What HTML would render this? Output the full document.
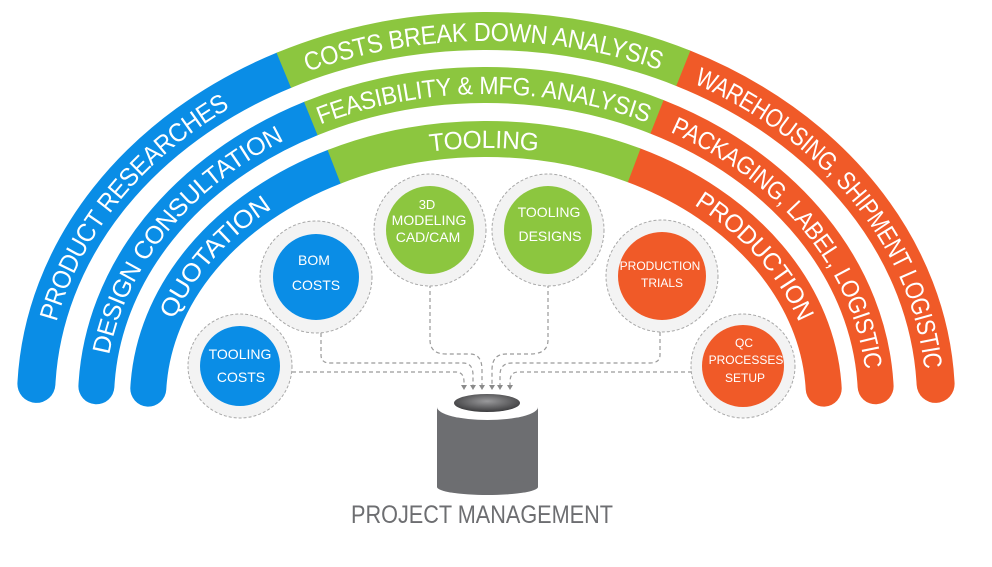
<!DOCTYPE html>
<html><head><meta charset="utf-8"><style>
html,body{margin:0;padding:0;background:#fff;}
svg{display:block;}
.t{font-family:"Liberation Sans Narrow","Liberation Sans",sans-serif;fill:#fff;}
</style></head><body>
<svg width="992" height="567" viewBox="0 0 992 567" xmlns="http://www.w3.org/2000/svg">
<defs>
<path id="o1" d="M36.4 383.9 A450 369 0 0 1 283.8 70.3"/>
<path id="o2" d="M283.8 70.3 A450 369 0 0 1 683.3 68.3"/>
<path id="o3" d="M683.3 68.3 A450 369 0 0 1 935.6 383.9"/>
<path id="m1" d="M96.4 386.3 A390 315 0 0 1 310.8 118.6"/>
<path id="m2" d="M310.8 118.6 A390 315 0 0 1 657 116.9"/>
<path id="m3" d="M657 116.9 A390 315 0 0 1 875.6 386.3"/>
<path id="i1" d="M148.3 388.6 A338 261 0 0 1 334.1 166.8"/>
<path id="i2" d="M334.1 166.8 A338 261 0 0 1 634.2 165.4"/>
<path id="i3" d="M634.2 165.4 A338 261 0 0 1 823.7 388.6"/>
<radialGradient id="hole" cx="50%" cy="40%" r="60%">
<stop offset="0" stop-color="#9a9a9c"/><stop offset="1" stop-color="#3c3c3e"/>
</radialGradient>
</defs>
<g fill="none">
<use href="#o1" stroke="#0a8de6" stroke-width="38" stroke-linecap="round"/>
<use href="#o3" stroke="#f05a28" stroke-width="38" stroke-linecap="round"/>
<use href="#o2" stroke="#8cc63f" stroke-width="38"/>
<use href="#m1" stroke="#0a8de6" stroke-width="36" stroke-linecap="round"/>
<use href="#m3" stroke="#f05a28" stroke-width="36" stroke-linecap="round"/>
<use href="#m2" stroke="#8cc63f" stroke-width="36"/>
<use href="#i1" stroke="#0a8de6" stroke-width="36" stroke-linecap="round"/>
<use href="#i3" stroke="#f05a28" stroke-width="36" stroke-linecap="round"/>
<use href="#i2" stroke="#8cc63f" stroke-width="36"/>
</g>
<g class="t" font-size="26" dominant-baseline="central" text-anchor="middle">
<text dy="1"><textPath href="#o1" startOffset="50%" textLength="290" lengthAdjust="spacingAndGlyphs">PRODUCT RESEARCHES</textPath></text>
<text dy="1"><textPath href="#o2" startOffset="50%" textLength="365" lengthAdjust="spacingAndGlyphs">COSTS BREAK DOWN ANALYSIS</textPath></text>
<text dy="1"><textPath href="#o3" startOffset="50%" textLength="395" lengthAdjust="spacingAndGlyphs">WAREHOUSING, SHIPMENT LOGISTIC</textPath></text>
<text dy="1" font-size="25"><textPath href="#m1" startOffset="50%" textLength="295" lengthAdjust="spacingAndGlyphs">DESIGN CONSULTATION</textPath></text>
<text dy="1" font-size="25"><textPath href="#m2" startOffset="50%" textLength="340" lengthAdjust="spacingAndGlyphs">FEASIBILITY &amp; MFG. ANALYSIS</textPath></text>
<text dy="1" font-size="25"><textPath href="#m3" startOffset="50%" textLength="330" lengthAdjust="spacingAndGlyphs">PACKAGING, LABEL, LOGISTIC</textPath></text>
<text dy="1" font-size="25"><textPath href="#i1" startOffset="50%" textLength="155" lengthAdjust="spacingAndGlyphs">QUOTATION</textPath></text>
<text dy="1" font-size="25"><textPath href="#i2" startOffset="50%" textLength="110" lengthAdjust="spacingAndGlyphs">TOOLING</textPath></text>
<text dy="1" font-size="25"><textPath href="#i3" startOffset="50%" textLength="165" lengthAdjust="spacingAndGlyphs">PRODUCTION</textPath></text>
</g>
<g fill="none" stroke="#9a9a9a" stroke-width="1.2" stroke-dasharray="4 3">
<path d="M292 372 H456 Q464 372 464 382 V386"/>
<path d="M321 333 V355 Q321 363 330 363 H463 Q473 363 473 375 V386"/>
<path d="M430 284 V340 Q430 354 446 354 H470 Q482 354 482 370 V386"/>
<path d="M548 284 V340 Q548 354 530 354 H506 Q492 354 492 370 V386"/>
<path d="M660 332 V355 Q660 363 650 363 H512 Q500 363 500 375 V386"/>
<path d="M692 372 H518 Q510 372 510 382 V386"/>
</g>
<g fill="#8a8a8a">
<path d="M461 385 h6 l-3 5z"/><path d="M470 385 h6 l-3 5z"/><path d="M479 385 h6 l-3 5z"/>
<path d="M489 385 h6 l-3 5z"/><path d="M497 385 h6 l-3 5z"/><path d="M507 385 h6 l-3 5z"/>
</g>
<g stroke="#a8a8a8" stroke-width="1" stroke-dasharray="3 2" fill="#f3f3f3">
<circle cx="240" cy="366" r="52"/>
<circle cx="316" cy="277" r="56"/>
<circle cx="430" cy="230" r="56"/>
<circle cx="548" cy="230" r="56"/>
<circle cx="662" cy="276" r="56"/>
<circle cx="743" cy="366" r="52"/>
</g>
<circle cx="240" cy="366" r="40" fill="#0a8de6"/>
<circle cx="316" cy="277" r="43" fill="#0a8de6"/>
<circle cx="430" cy="230" r="44" fill="#8cc63f"/>
<circle cx="548" cy="230" r="44" fill="#8cc63f"/>
<circle cx="662" cy="276" r="44" fill="#f05a28"/>
<circle cx="743" cy="366" r="41" fill="#f05a28"/>
<g fill="#fff" text-anchor="middle" style="font-family:'Liberation Sans Narrow','Liberation Sans',sans-serif">
<text x="240" y="359" font-size="14">TOOLING</text><text x="241" y="382" font-size="14">COSTS</text>
<text x="314" y="265" font-size="14">BOM</text><text x="316" y="290" font-size="14">COSTS</text>
<text x="427" y="209" font-size="13">3D</text><text x="429" y="225" font-size="14">MODELING</text><text x="428" y="242" font-size="14">CAD/CAM</text>
<text x="549" y="217" font-size="14">TOOLING</text><text x="550" y="241" font-size="14">DESIGNS</text>
<text x="660" y="270" font-size="12">PRODUCTION</text><text x="662" y="287" font-size="12">TRIALS</text>
<text x="744" y="347" font-size="12">QC</text><text x="746" y="364" font-size="12">PROCESSES</text><text x="745" y="382" font-size="12">SETUP</text>
</g>
<rect x="437" y="407" width="101" height="80" fill="#6d6e71"/>
<ellipse cx="487.5" cy="487" rx="50.5" ry="8" fill="#6d6e71"/>
<ellipse cx="487.5" cy="407" rx="50.5" ry="13" fill="#fff"/>
<ellipse cx="487" cy="403" rx="33" ry="9" fill="url(#hole)"/>
<text x="482" y="523" font-size="25" fill="#6d6e71" text-anchor="middle" style="font-family:'Liberation Sans Narrow','Liberation Sans',sans-serif" textLength="262" lengthAdjust="spacingAndGlyphs">PROJECT MANAGEMENT</text>
</svg>
</body></html>
